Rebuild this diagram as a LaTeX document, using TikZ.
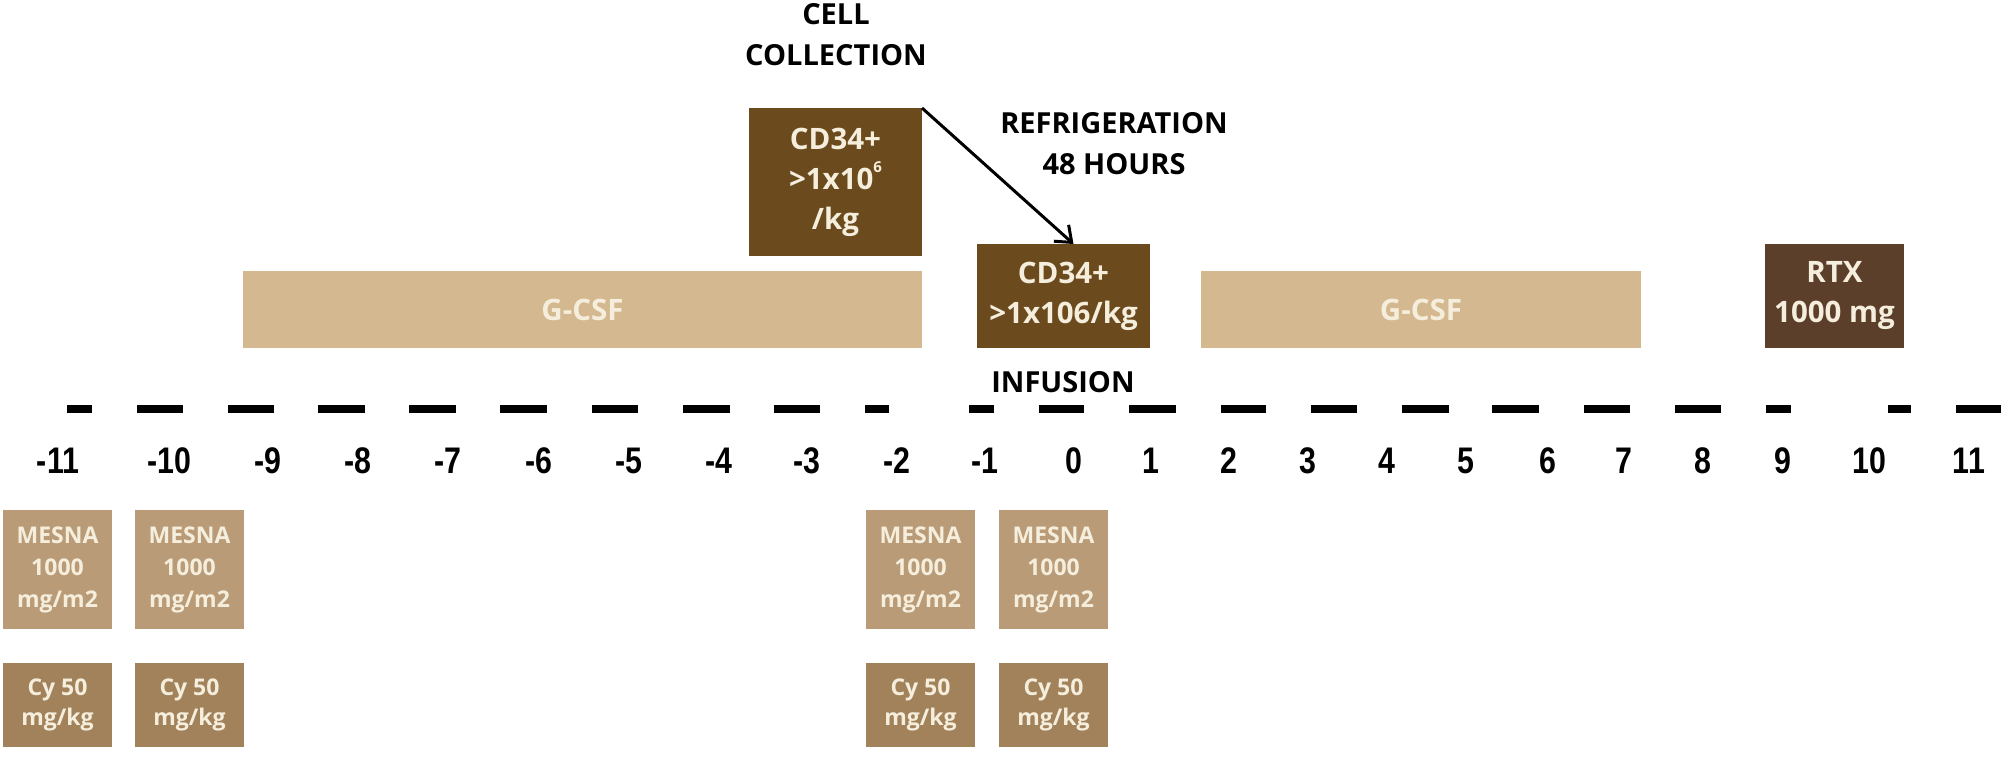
\documentclass[tikz,border=0pt]{standalone}
\usepackage{fontspec}
\setmainfont{Open Sans}
\newfontfamily\numfont[FakeStretch=0.82]{Liberation Sans}
\usetikzlibrary{arrows.meta}
\definecolor{darkbrown}{HTML}{6B4A1E}
\definecolor{rtxbrown}{HTML}{5C3F2A}
\definecolor{gcsf}{HTML}{D4B88F}
\definecolor{mesna}{HTML}{B99C77}
\definecolor{cyc}{HTML}{A2825B}
\definecolor{boxtext}{HTML}{F6EEDD}
\begin{document}
\begin{tikzpicture}[x=1pt,y=-1pt,
  box/.style={rectangle, inner sep=0pt, outer sep=0pt, anchor=north west, text=boxtext, align=center},
  bigtxt/.style={font={\fontsize{29.5}{40}\selectfont\bfseries}},
  smalltxt/.style={font={\fontsize{23}{32}\selectfont\bfseries}},
  label/.style={align=center, text=black, font={\fontsize{29}{41}\selectfont\bfseries}},
  daynum/.style={text=black, font={\numfont\fontsize{37}{40}\selectfont\bfseries}},
  dashseg/.style={line width=8pt, black},
  arrowline/.style={line width=3pt, black, -{Straight Barb[length=14pt,width=22pt,line width=3pt]}}
]
\useasboundingbox[fill=white] (0,0) rectangle (2008,758);

% top labels
\node[label] (cell) at (836,35) {CELL\\COLLECTION};
\node[label] (refr) at (1114,144) {REFRIGERATION\\48 HOURS};
\node[label] (inf) at (1063,382) {INFUSION};

% upper boxes
\node[box, bigtxt, fill=darkbrown, minimum width=173pt, minimum height=148pt] (cd1) at (749,108) {CD34+\\>1x10\raisebox{0.55em}{\fontsize{15}{15}\selectfont 6}\\/kg};
\node[box, bigtxt, fill=darkbrown, minimum width=173pt, minimum height=104pt] (cd2) at (977,244) {CD34+\\>1x106/kg};
\node[box, bigtxt, fill=gcsf, minimum width=679pt, minimum height=77pt] (g1) at (243,271) {G-CSF};
\node[box, bigtxt, fill=gcsf, minimum width=440pt, minimum height=77pt] (g2) at (1201,271) {G-CSF};
\node[box, bigtxt, fill=rtxbrown, minimum width=139pt, minimum height=104pt] (rtx) at (1765,244) {RTX\\1000 mg};

\draw[arrowline] (cd1.north east) -- ([xshift=10pt]cd2.north);

% dashes of the time line
\foreach \a/\b [count=\i] in {67/92,137/183,228/274,318/365,409/456,500/547,592/638,683/730,774/820,865/889,969/994,1039/1084,1129/1176,1221/1266,1311/1357,1402/1449,1492/1539,1584/1630,1675/1721,1766/1791,1888/1911,1956/2001}
  \draw[dashseg] (\a,409) coordinate (d\i a) -- (\b,409) coordinate (d\i b);

% day numbers
\foreach \n/\x in {-11/58,-10/169,-9/268,-8/358,-7/448,-6/539,-5/629,-4/719,-3/807,-2/897,-1/985,0/1074,1/1151,2/1229,3/1308,4/1387,5/1466,6/1548,7/1624,8/1703,9/1783,10/1869,11/1969}
  \node[daynum] (n\n) at (\x,461) {\n};

% MESNA and Cy boxes
\foreach \x [count=\i] in {3,135,866,999}{
  \node[box, smalltxt, fill=mesna, minimum width=109pt, minimum height=119pt] (mesna\i) at (\x,510) {MESNA\\1000\\mg/m2};
  \node[box, font={\fontsize{23}{30}\selectfont\bfseries}, fill=cyc, minimum width=109pt, minimum height=84pt] (cy\i) at (\x,663) {Cy 50\\mg/kg};
}
\end{tikzpicture}
\end{document}
